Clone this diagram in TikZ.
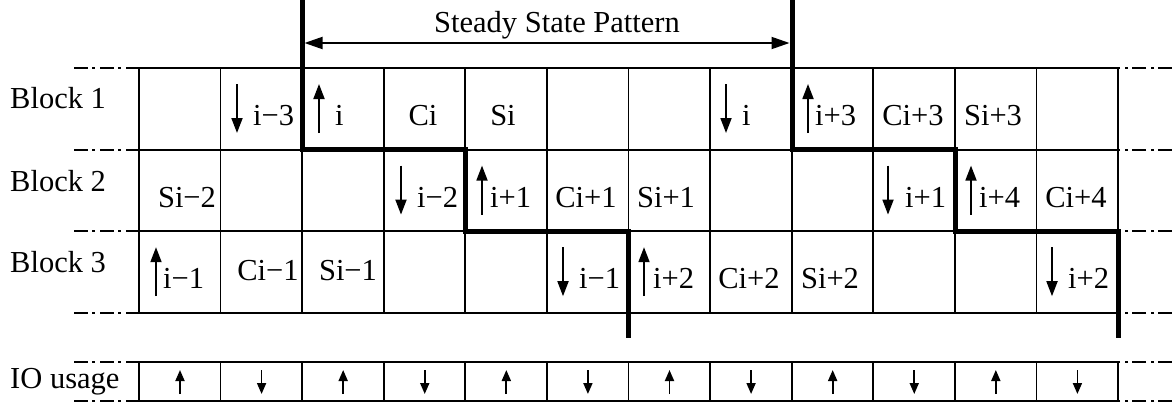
\documentclass[tikz,border=0pt]{standalone}
\usepackage{fontspec}
\setmainfont{Liberation Serif}
\usetikzlibrary{arrows.meta}
\newcommand{\cellup}[2]{\draw[cellarrow] (#1,#2+65) -- (#1,#2+16);}
\newcommand{\celldown}[2]{\draw[cellarrow] (#1,#2+16) -- (#1,#2+65);}
\begin{document}
\begin{tikzpicture}[x=1pt,y=-1pt,
  every node/.style={font=\fontsize{30.5}{36}\selectfont, inner sep=0pt},
  gridline/.style={line width=1.8pt},
  thickpath/.style={line width=5pt},
  dashdot/.style={line width=1.8pt, dash pattern=on 14pt off 4pt on 3pt off 5pt},
  cellarrow/.style={line width=1.8pt, -{Triangle[length=15pt,width=11pt]}},
  ioarrow/.style={line width=1.8pt, -{Triangle[length=11pt,width=9pt]}},
  spanarrow/.style={line width=1.8pt, {Triangle[length=18pt,width=12pt]}-{Triangle[length=18pt,width=12pt]}},
  lbl/.style={anchor=base west},
  ctr/.style={anchor=base}]
\useasboundingbox (0,0) rectangle (1172,410);

% main grid
\foreach \c in {0,...,12} \draw[gridline] (139+81.583*\c,68) -- (139+81.583*\c,312.8);
\foreach \r in {0,...,3} \draw[gridline] (139,68+81.6*\r) -- (1118,68+81.6*\r);
% IO row
\draw[gridline] (139,362) rectangle (1118,401);
\foreach \c in {1,...,11} \draw[gridline] (139+81.583*\c,362) -- (139+81.583*\c,401);
% dash-dot extensions
\foreach \y in {68,149.6,231.2,312.8,362,401} {
  \draw[dashdot] (74,\y) -- (139,\y);
  \draw[dashdot] (1172,\y) -- (1118,\y);
}
% IO arrows
\foreach \c in {0,2,...,10} \draw[ioarrow] (180+81.583*\c,394) -- (180+81.583*\c,370);
\foreach \c in {1,3,...,11} \draw[ioarrow] (180+81.583*\c,370) -- (180+81.583*\c,394);

% staircase boundaries
\draw[thickpath] (302,0) -- (302,149.6) -- (465.3,149.6) -- (465.3,231.2) -- (628.5,231.2) -- (628.5,338);
\draw[thickpath] (792,0) -- (792,149.6) -- (955,149.6) -- (955,231.2) -- (1118,231.2) -- (1118,338);

% steady state arrow
\node[ctr] (ssp) at (557,32) {Steady State Pattern};
\coordinate (sa) at (304.5,43);
\coordinate (sb) at (789.5,43);
\draw[spanarrow] (sa) -- (sb);

% row labels
\node[lbl] (b1) at (10,108) {Block 1};
\node[lbl] (b2) at (10,191) {Block 2};
\node[lbl] (b3) at (10,272) {Block 3};
\node[lbl] (io) at (10,388) {IO usage};

% row 1
\celldown{237}{68} \node[lbl] (r1c1) at (253,125) {i−3};
\cellup{319}{68} \node[lbl] (r1c2) at (335,125) {i};
\node[ctr] (r1c3) at (423,125) {Ci};
\node[ctr] (r1c4) at (503,125) {Si};
\celldown{726}{68} \node[lbl] (r1c7) at (742,125) {i};
\cellup{808}{68} \node[lbl] (r1c8) at (815,125) {i+3};
\node[ctr] (r1c9) at (913,125) {Ci+3};
\node[ctr] (r1c10) at (993,125) {Si+3};

% row 2
\node[ctr] (r2c0) at (187,207) {Si−2};
\celldown{401}{149.6} \node[lbl] (r2c3) at (417,207) {i−2};
\cellup{482}{149.6} \node[lbl] (r2c4) at (490,207) {i+1};
\node[ctr] (r2c5) at (586,207) {Ci+1};
\node[ctr] (r2c6) at (666,207) {Si+1};
\celldown{888}{149.6} \node[lbl] (r2c9) at (905,207) {i+1};
\cellup{971}{149.6} \node[lbl] (r2c10) at (979,207) {i+4};
\node[ctr] (r2c11) at (1076,207) {Ci+4};

% row 3
\cellup{156}{231.2} \node[lbl] (r3c0) at (163,288) {i−1};
\node[ctr] (r3c1) at (268,280) {Ci−1};
\node[ctr] (r3c2) at (348,280) {Si−1};
\celldown{563}{231.2} \node[lbl] (r3c5) at (579,288) {i−1};
\cellup{644}{231.2} \node[lbl] (r3c6) at (653,288) {i+2};
\node[ctr] (r3c7) at (749,288) {Ci+2};
\node[ctr] (r3c8) at (830,288) {Si+2};
\celldown{1052}{231.2} \node[lbl] (r3c11) at (1068,288) {i+2};
\end{tikzpicture}
\end{document}
